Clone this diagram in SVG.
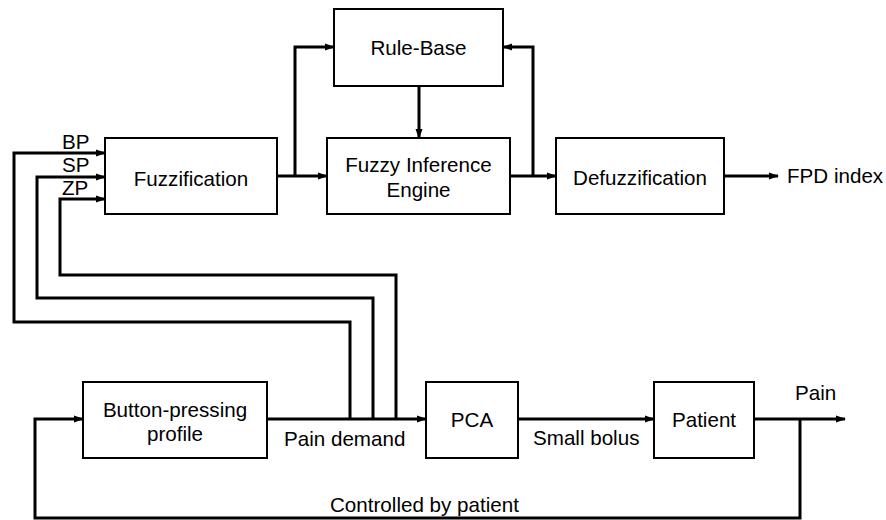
<svg xmlns="http://www.w3.org/2000/svg" width="886" height="520" viewBox="0 0 886 520">
<defs>
<marker id="ah" markerUnits="userSpaceOnUse" markerWidth="10" markerHeight="8" refX="9" refY="4" orient="auto">
<path d="M0,0.5 L10,4 L0,7.5 Z" fill="#000"/>
</marker>
<style>
.box{fill:#fff;stroke:#000;stroke-width:2}
.t{font-family:"Liberation Sans",Arial,sans-serif;font-size:20.6px;fill:#000}
.c{text-anchor:middle}
.ln{fill:none;stroke:#000;stroke-width:3}
.ar{marker-end:url(#ah)}
</style>
</defs>
<rect width="886" height="520" fill="#fff"/>
<g id="connectors">
<path class="ln ar" d="M277,176 L327,176"/>
<path class="ln ar" d="M295,176 L295,47 L334,47"/>
<path class="ln ar" d="M510,176 L556,176"/>
<path class="ln ar" d="M533,176 L533,47 L503,47"/>
<path class="ln ar" d="M419,86 L419,138"/>
<path class="ln ar" d="M724,176 L778,176"/>
<path class="ln ar" d="M350,419 L350,322 L14,322 L14,153 L105,153"/>
<path class="ln ar" d="M373,419 L373,298 L37,298 L37,177 L105,177"/>
<path class="ln ar" d="M396,419 L396,275 L60,275 L60,199 L105,199"/>
<path class="ln ar" d="M267,419 L426,419"/>
<path class="ln ar" d="M518,419 L654,419"/>
<path class="ln ar" d="M754,419 L845,419"/>
<path class="ln ar" d="M800,419 L800,518 L35,518 L35,419 L83,419"/>
</g>
<g id="rulebase"><rect class="box" x="334" y="9" width="169" height="77"/><text class="t c" x="418.5" y="55">Rule-Base</text></g>
<g id="fuzzification"><rect class="box" x="105" y="138" width="172" height="76"/><text class="t c" x="191" y="186">Fuzzification</text></g>
<g id="inference"><rect class="box" x="327" y="138" width="183" height="76"/><text class="t c" x="418.5" y="172">Fuzzy Inference</text><text class="t c" x="418.5" y="197">Engine</text></g>
<g id="defuzzification"><rect class="box" x="556" y="138" width="168" height="76"/><text class="t c" x="640" y="185">Defuzzification</text></g>
<g id="fpd"><text class="t" x="787" y="183">FPD index</text></g>
<g id="inputs"><text class="t" x="62" y="149">BP</text><text class="t" x="62" y="172">SP</text><text class="t" x="62" y="195">ZP</text></g>
<g id="button"><rect class="box" x="83" y="382" width="184" height="76"/><text class="t c" x="175" y="417">Button-pressing</text><text class="t c" x="175" y="441">profile</text></g>
<g id="pca"><rect class="box" x="426" y="382" width="92" height="76"/><text class="t c" x="472" y="427">PCA</text></g>
<g id="patient"><rect class="box" x="654" y="382" width="100" height="76"/><text class="t c" x="704" y="427">Patient</text></g>
<g id="labels">
<text class="t" x="284" y="446">Pain demand</text>
<text class="t" x="533" y="445">Small bolus</text>
<text class="t" x="795" y="400">Pain</text>
<text class="t" x="330" y="512">Controlled by patient</text>
</g>
</svg>
